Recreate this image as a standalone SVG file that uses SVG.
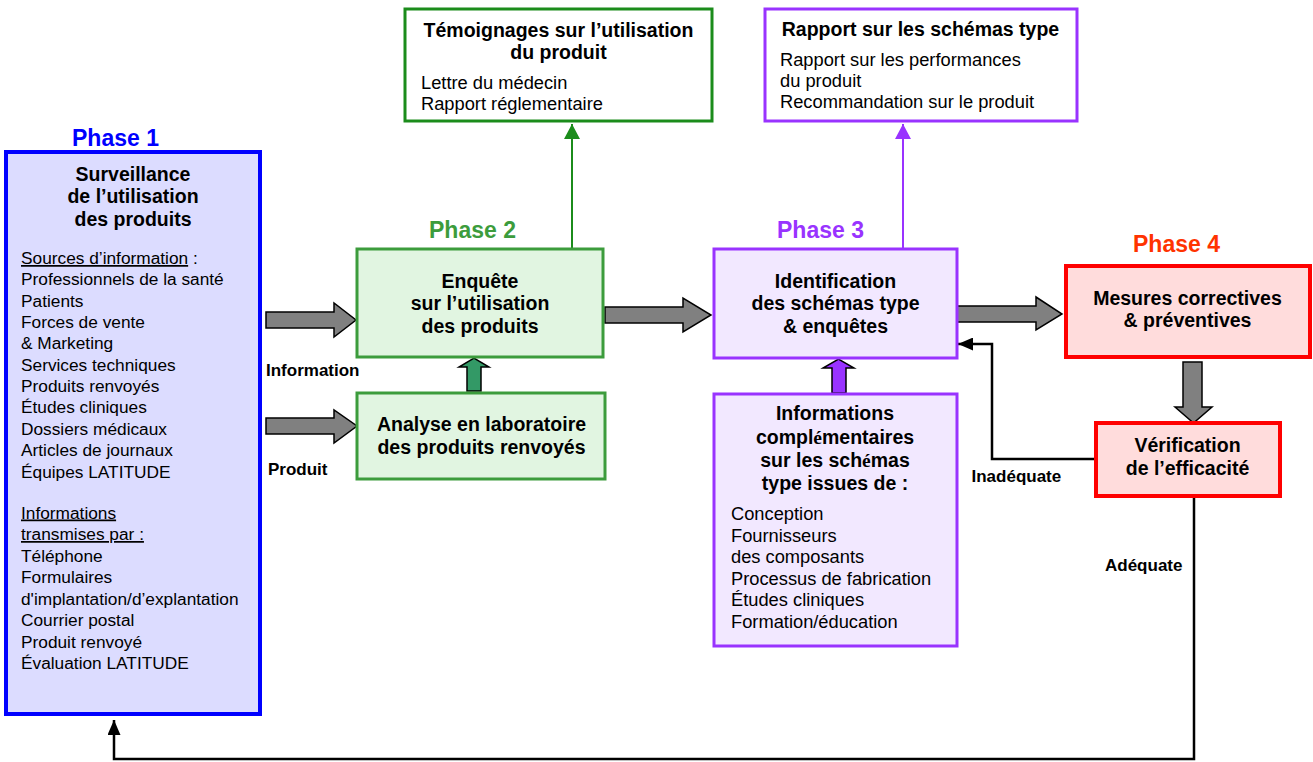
<svg xmlns="http://www.w3.org/2000/svg" width="1313" height="762" viewBox="0 0 1313 762">
<style>
text{font-family:"Liberation Sans",Arial,sans-serif;fill:#000}
.b{font-weight:bold;font-size:19.5px;text-anchor:middle}
.r{font-size:17.3px}
.r18{font-size:18.3px}
.lbl{font-weight:bold;font-size:17px}
.ph{font-weight:bold;font-size:23px;text-anchor:middle}
.u{text-decoration:underline}
.garrow{fill:#808080;stroke:#000;stroke-width:1.5;stroke-linejoin:miter}
.line{fill:none;stroke-width:2.5;stroke-linejoin:miter}
</style>
<defs>
<marker id="mkGreen" markerUnits="userSpaceOnUse" viewBox="0 0 15 16" markerWidth="15" markerHeight="16" refX="15" refY="8" orient="auto"><path d="M0,0 L15,8 L0,16 z" fill="#1B8C1B"/></marker>
<marker id="mkPurple" markerUnits="userSpaceOnUse" viewBox="0 0 15 16" markerWidth="15" markerHeight="16" refX="15" refY="8" orient="auto"><path d="M0,0 L15,8 L0,16 z" fill="#9933FF"/></marker>
<marker id="mkBlack" markerUnits="userSpaceOnUse" viewBox="0 0 15 13" markerWidth="15" markerHeight="13" refX="15" refY="6.5" orient="auto"><path d="M0,0 L15,6.5 L0,13 z" fill="#000"/></marker>
</defs>

<!-- Phase labels -->
<text class="ph" x="115.5" y="146" style="fill:#0000FF">Phase 1</text>
<text class="ph" x="472.5" y="238" style="fill:#3C9C3C">Phase 2</text>
<text class="ph" x="820.5" y="238" style="fill:#9933FF">Phase 3</text>
<text class="ph" x="1176.5" y="252" style="fill:#FF3300">Phase 4</text>

<g id="connectors">
  <polygon class="garrow" points="266,312 334,312 334,303 356,320 334,337 334,328 266,328"/>
  <polygon class="garrow" points="266,418 334,418 334,410 357,426 334,443 334,434 266,434"/>
  <polygon class="garrow" points="605,307 683,307 683,298 711,315 683,332 683,323 605,323"/>
  <polygon class="garrow" points="957,306 1036,306 1036,297 1062,314 1036,330 1036,322 957,322"/>
  <polygon class="garrow" points="1183,362 1202,362 1202,407 1212,407 1193.5,423 1175,407 1183,407"/>
  <polygon points="467,391 467,367 459,367 474,358 489,367 481,367 481,391" fill="#339966" stroke="#000" stroke-width="1.5"/>
  <polygon points="832,393 832,368 823,368 838.5,359 854,368 846,368 846,393" fill="#9933FF" stroke="#000" stroke-width="1.5"/>
  <line x1="572" y1="248" x2="572" y2="124" stroke="#1B8C1B" stroke-width="2" marker-end="url(#mkGreen)"/>
  <line x1="903" y1="249" x2="903" y2="124" stroke="#9933FF" stroke-width="2" marker-end="url(#mkPurple)"/>
  <polyline class="line" points="1096,459 992,459 992,344 958,344" stroke="#000" marker-end="url(#mkBlack)"/>
  <polyline class="line" points="1194,497 1194,759 114,759 114,720" stroke="#000" marker-end="url(#mkBlack)"/>
  <text class="lbl" x="266" y="376">Information</text>
  <text class="lbl" x="268" y="475">Produit</text>
  <text class="lbl" x="971.5" y="482">Inadéquate</text>
  <text class="lbl" x="1105" y="571">Adéquate</text>
</g>

<g id="phase1">
  <rect x="6" y="152" width="254" height="562" fill="#DCDCFF" stroke="#0000FF" stroke-width="4"/>
  <text class="b" x="133" y="180.6">Surveillance</text>
  <text class="b" x="133" y="203.3">de l’utilisation</text>
  <text class="b" x="133" y="225.8">des produits</text>
  <text class="r" x="21" y="264"><tspan class="u">Sources d’information</tspan> :<tspan x="21" dy="21.35">Professionnels de la santé</tspan><tspan x="21" dy="21.35">Patients</tspan><tspan x="21" dy="21.35">Forces de vente</tspan><tspan x="21" dy="21.35">&amp; Marketing</tspan><tspan x="21" dy="21.35">Services techniques</tspan><tspan x="21" dy="21.35">Produits renvoyés</tspan><tspan x="21" dy="21.35">Études cliniques</tspan><tspan x="21" dy="21.35">Dossiers médicaux</tspan><tspan x="21" dy="21.35">Articles de journaux</tspan><tspan x="21" dy="21.35">Équipes LATITUDE</tspan></text>
  <text class="r" x="21" y="518.5"><tspan class="u">Informations</tspan><tspan x="21" dy="21.5" class="u">transmises par :</tspan><tspan x="21" dy="21.5">Téléphone</tspan><tspan x="21" dy="21.5">Formulaires</tspan><tspan x="21" dy="21.5">d'implantation/d’explantation</tspan><tspan x="21" dy="21.5">Courrier postal</tspan><tspan x="21" dy="21.5">Produit renvoyé</tspan><tspan x="21" dy="21.5">Évaluation LATITUDE</tspan></text>
</g>

<g id="enquete">
  <rect x="357" y="249" width="246" height="108" fill="#E1F5E1" stroke="#3C9C3C" stroke-width="3"/>
  <text class="b" x="480" y="287.7">Enquête</text>
  <text class="b" x="480" y="310.3">sur l’utilisation</text>
  <text class="b" x="480" y="333">des produits</text>
</g>

<g id="analyse">
  <rect x="357" y="393" width="248" height="86" fill="#E1F5E1" stroke="#3C9C3C" stroke-width="3"/>
  <text class="b" x="481.5" y="431">Analyse en laboratoire</text>
  <text class="b" x="481.5" y="454.3">des produits renvoyés</text>
</g>

<g id="temoignages">
  <rect x="405" y="9" width="307" height="112" fill="#FFFFFF" stroke="#1B8C1B" stroke-width="3"/>
  <text class="b" x="558.5" y="37">Témoignages sur l’utilisation</text>
  <text class="b" x="558.5" y="59">du produit</text>
  <text class="r18" x="421" y="89">Lettre du médecin</text>
  <text class="r18" x="421" y="109.5">Rapport réglementaire</text>
</g>

<g id="identification">
  <rect x="714" y="249" width="243" height="109" fill="#F2E8FF" stroke="#9933FF" stroke-width="3"/>
  <text class="b" x="835.5" y="287.7">Identification</text>
  <text class="b" x="835.5" y="310.3">des schémas type</text>
  <text class="b" x="835.5" y="333">&amp; enquêtes</text>
</g>

<g id="rapport">
  <rect x="765" y="9" width="312" height="112" fill="#FFFFFF" stroke="#9933FF" stroke-width="3"/>
  <text class="b" x="920.5" y="36.3">Rapport sur les schémas type</text>
  <text class="r18" x="780" y="65.5">Rapport sur les performances</text>
  <text class="r18" x="780" y="87">du produit</text>
  <text class="r18" x="780" y="108">Recommandation sur le produit</text>
</g>

<g id="informations">
  <rect x="714" y="394" width="243" height="252" fill="#F2E8FF" stroke="#9933FF" stroke-width="3"/>
  <text class="b" x="835" y="420.3">Informations</text>
  <text class="b" x="835" y="443.5">compl<tspan style="font-family:'Liberation Serif',serif">é</tspan>mentaires</text>
  <text class="b" x="835" y="466.7">sur les sch<tspan style="font-family:'Liberation Serif',serif">é</tspan>mas</text>
  <text class="b" x="835" y="489.7">type issues de :</text>
  <text class="r18" x="731" y="520"><tspan>Conception</tspan><tspan x="731" dy="21.5">Fournisseurs</tspan><tspan x="731" dy="21.5">des composants</tspan><tspan x="731" dy="21.5">Processus de fabrication</tspan><tspan x="731" dy="21.5">Études cliniques</tspan><tspan x="731" dy="21.5">Formation/éducation</tspan></text>
</g>

<g id="mesures">
  <rect x="1066" y="266" width="244" height="91" fill="#FFDCDC" stroke="#FF0000" stroke-width="4"/>
  <text class="b" x="1187.5" y="305.3">Mesures correctives</text>
  <text class="b" x="1187.5" y="327">&amp; préventives</text>
</g>

<g id="verification">
  <rect x="1096" y="423" width="184" height="73" fill="#FFDCDC" stroke="#FF0000" stroke-width="4"/>
  <text class="b" x="1187.5" y="452">Vérification</text>
  <text class="b" x="1187.5" y="475.3">de l’efficacité</text>
</g>
</svg>
